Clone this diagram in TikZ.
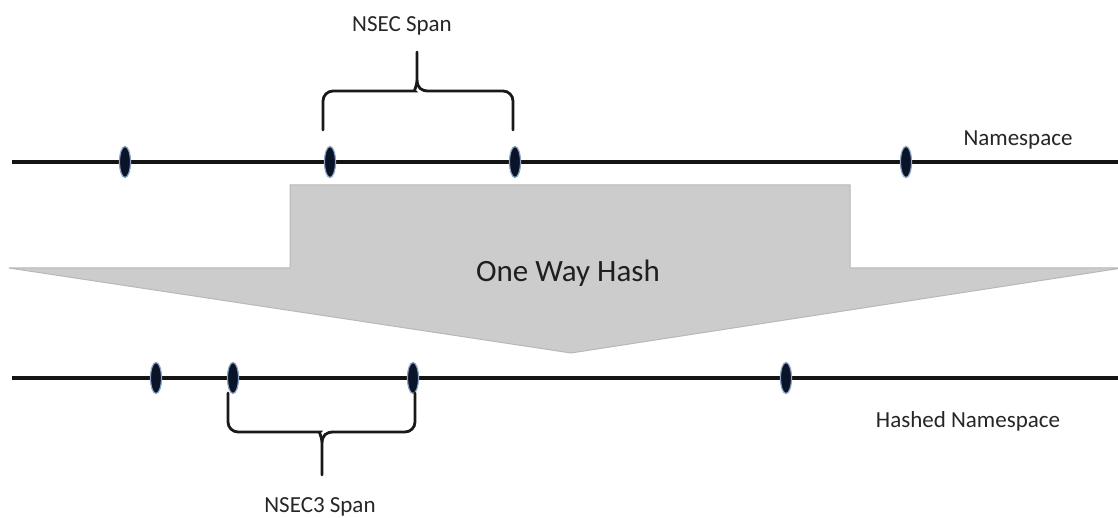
\documentclass[tikz,border=0pt]{standalone}
\usepackage{fontspec}
\setmainfont{Carlito}
\usetikzlibrary{shapes.geometric}
\definecolor{navy}{HTML}{0A1428}
\definecolor{glow}{HTML}{5A7AAA}
\definecolor{hashgray}{HTML}{CCCCCC}
\begin{document}
\begin{tikzpicture}[x=1pt,y=-1pt,
 axis/.style={line width=3.5pt,color=black!92},
 marker/.style={ellipse,inner sep=0pt,minimum width=11pt,minimum height=31pt,fill=navy,draw=glow!70,line width=1.2pt},
 brace/.style={line width=2.8pt,color=black!90,line cap=round},
 label/.style={anchor=base,text=black!85,font=\fontsize{23}{28}\selectfont}]
 \useasboundingbox (0,0) rectangle (1118,518);
 \fill[white] (0,0) rectangle (1118,518);
 % mũi tên
 \filldraw[fill=hashgray,draw=black!28,line width=1pt]
 (290,185)--(850,185)--(850,268)--(1122,268)--(571,353)--(9,268)--(290,268)--cycle;
 \node[anchor=base,text=black!88,font=\fontsize{31}{36}\selectfont] (hash) at (568,282) {One Way Hash};
 % hai trục
 \draw[axis] (12,162)--(1118,162);
 \draw[axis] (12,378)--(1118,378);
 \foreach \x [count=\i] in {125,330,515,906}
 \node[marker] (t\i) at (\x,162) {};
 \foreach \x [count=\i] in {156,233,413,786}
 \node[marker] (b\i) at (\x,378) {};
 % ngoặc
 \draw[brace] (323,130) [rounded corners=10] |- (405,91) [sharp corners]
 .. controls (413,91) and (417,88) .. (417,79) -- (417,52)
 (417,79) .. controls (417,88) and (421,91) .. (429,91) [rounded corners=10] -| (513,130);
 \draw[brace] (228,393) [rounded corners=10] |- (310,432) [sharp corners]
 .. controls (318,432) and (322,435) .. (322,444) -- (322,475)
 (322,444) .. controls (322,435) and (326,432) .. (334,432) [rounded corners=10] -| (415,393);
 \path
 (402,32) node[label] (nsec) {NSEC Span}
 (320,512) node[label] (nsec3) {NSEC3 Span}
 (1018,146) node[label] (ns) {Namespace}
 (968,427) node[label] (hns) {Hashed Namespace};
\end{tikzpicture}
\end{document}
